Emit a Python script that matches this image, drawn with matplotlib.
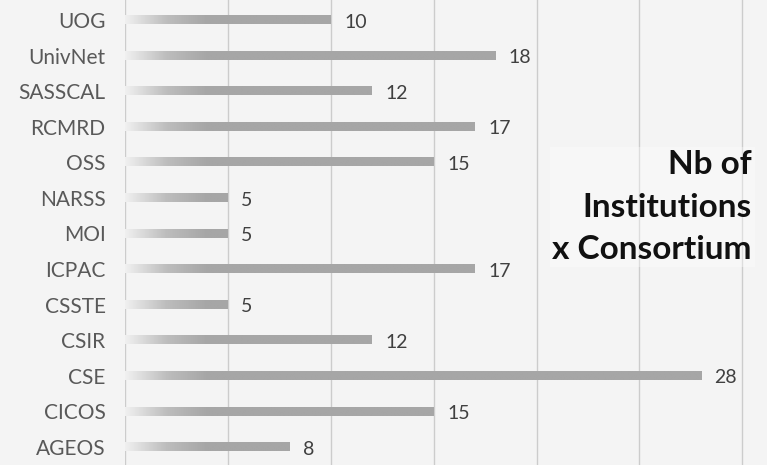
import numpy as np
import matplotlib.pyplot as plt
from matplotlib.colors import LinearSegmentedColormap

# consortium names, bottom to top
names = ["AGEOS", "CICOS", "CSE", "CSIR", "CSSTE", "ICPAC", "MOI",
         "NARSS", "OSS", "RCMRD", "SASSCAL", "UnivNet", "UOG"]
counts = [8, 15, 28, 12, 5, 17, 5, 5, 15, 17, 12, 18, 10]
title_lines = ["Nb of", "Institutions", "x Consortium"]

plt.rcParams['font.family'] = ['Lato', 'DejaVu Sans']

fig = plt.figure(figsize=(7.67, 4.65), dpi=100, facecolor='#f4f4f4')
ax = fig.add_axes([125/767, 0, (767-125)/767, 1])
ax.set_facecolor('#f4f4f4')

y = np.arange(len(names))
bh = 0.23
cmap = LinearSegmentedColormap.from_list('g', ['#f0f0f0', '#bdbdbd', '#a6a6a6'])

bars = ax.barh(y, counts, height=bh, color='none')
for b, v in zip(bars, counts):
    x0, y0 = b.get_x(), b.get_y()
    w, h = b.get_width(), b.get_height()
    xs = np.linspace(0, w, 300)
    grad = np.clip(xs / 4.0, 0, 1)[None, :]
    ax.imshow(grad, extent=[x0, x0 + w, y0, y0 + h], aspect='auto',
              cmap=cmap, vmin=0, vmax=1, zorder=2, interpolation='bilinear')
    ax.text(x0 + w + 0.65, y0 + h / 2 - 0.06, str(v), va='center', ha='left',
            fontsize=14, color='#404040', zorder=3)

ax.set_xlim(0, 31.2)
ax.set_ylim(-0.506, 12.562)
ax.set_xticks([0, 5, 10, 15, 20, 25, 30])
ax.xaxis.grid(True, color='#cccccc', linewidth=1, zorder=0)
ax.set_axisbelow(True)
ax.tick_params(axis='x', bottom=False, labelbottom=False)
ax.set_yticks(y)
ax.set_yticklabels(names, fontsize=15, color='#595959')
ax.tick_params(axis='y', length=0, pad=14)
for s in ax.spines.values():
    s.set_visible(False)

fig.text(752/767, 1 - 207/465, "\n".join(title_lines), ha='right', va='center',
         fontsize=24, fontweight='bold', color='#111111', linespacing=1.56,
         bbox=dict(facecolor='white', edgecolor='none', alpha=0.35, pad=2))

plt.savefig('out.png', dpi=100, facecolor=fig.get_facecolor())
plt.close()
